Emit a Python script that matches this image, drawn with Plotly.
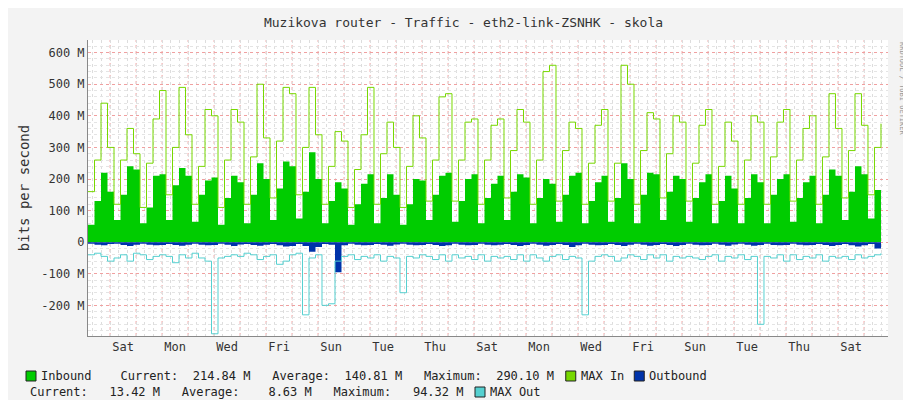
import plotly.graph_objects as go

# 6-hour samples, values in Mbit/s
inbound = [55,130,220,160, 70,150,240,230, 60,110,210,215, 70,180,235,210,
           65,150,195,205, 55,140,210,190, 60,150,250,200, 70,170,255,240,
           75,160,285,200, 60,130,190,170, 55,120,185,215, 60,140,215,150,
           55,120,200,195, 70,150,210,220, 65,130,200,215, 60,140,185,210,
           70,160,215,205, 60,140,200,185, 65,150,210,220, 60,130,190,210,
           65,140,250,200, 60,150,220,215, 70,160,210,200, 65,140,190,215,
           60,130,210,170, 60,140,215,190, 60,150,200,215, 65,140,190,210,
           60,150,230,210, 70,160,240,215, 75,165,215]
max_in = [160,260,440,300, 120,260,360,280, 110,250,390,480, 150,300,490,340,
          120,240,420,400, 110,260,420,380, 120,270,500,330, 140,320,490,470,
          150,300,490,340, 120,240,350,320, 110,230,340,490, 120,280,380,300,
          110,240,400,330, 130,260,460,470, 130,260,380,390, 120,260,370,390,
          140,290,420,380, 120,260,540,560, 130,290,380,360, 120,250,370,420,
          130,250,560,500, 120,290,410,390, 140,280,400,380, 130,250,370,420,
          120,240,380,320, 120,260,400,380, 120,270,380,420, 130,260,360,400,
          120,270,470,360, 140,290,470,370, 150,300,375]
outbound = [-5,-8,-10,-6, -5,-9,-12,-8, -5,-8,-10,-9, -6,-9,-11,-8,
            -5,-8,-10,-9, -5,-8,-12,-7, -6,-9,-11,-8, -6,-10,-14,-12,
            -6,-12,-30,-15, -6,-8,-95,-10, -5,-8,-10,-9, -6,-8,-11,-7,
            -5,-8,-10,-9, -6,-9,-12,-10, -5,-8,-10,-9, -5,-8,-10,-8,
            -6,-9,-12,-9, -5,-8,-11,-9, -6,-9,-15,-10, -5,-8,-10,-9,
            -6,-9,-12,-8, -5,-8,-11,-9, -6,-9,-12,-9, -5,-8,-10,-9,
            -5,-8,-11,-7, -5,-8,-11,-9, -5,-9,-10,-9, -5,-8,-10,-9,
            -6,-9,-12,-9, -6,-10,-14,-10, -6,-20,-12]
max_out = [-40,-35,-45,-60, -50,-40,-60,-35, -40,-55,-45,-40, -45,-65,-40,-50,
           -35,-50,-60,-290, -50,-45,-40,-45, -35,-40,-55,-45, -40,-70,-60,-40,
           -35,-230,-50,-40, -200,-195,-60,-45, -40,-55,-45,-50, -40,-60,-45,-50,
           -160,-45,-50,-40, -45,-55,-40,-60, -40,-50,-45,-55, -40,-60,-45,-50,
           -45,-55,-40,-60, -40,-50,-60,-45, -40,-55,-45,-50, -230,-60,-45,-40,
           -45,-60,-50,-40, -45,-55,-40,-50, -40,-60,-45,-50, -45,-50,-55,-45,
           -40,-60,-45,-50, -40,-55,-45,-260, -45,-50,-40,-60, -40,-55,-45,-50,
           -40,-60,-45,-50, -45,-55,-40,-50, -45,-40,-35]
day_labels = ["Sat", "Mon", "Wed", "Fri", "Sun", "Tue", "Thu", "Sat",
              "Mon", "Wed", "Fri", "Sun", "Tue", "Thu", "Sat"]
y_ticks = [-200, -100, 0, 100, 200, 300, 400, 500, 600]

def xs(vals):
    return [i * 0.25 for i in range(len(vals))]

fig = go.Figure()
fig.add_trace(go.Scatter(x=xs(inbound), y=inbound, line_shape="hv", fill="tozeroy",
                         fillcolor="#00cc00", line=dict(color="#00cc00", width=0)))
fig.add_trace(go.Scatter(x=xs(outbound), y=outbound, line_shape="hv", fill="tozeroy",
                         fillcolor="#0033aa", line=dict(color="#0033aa", width=0)))
fig.add_trace(go.Scatter(x=xs(max_in), y=max_in, line_shape="hv",
                         line=dict(color="#77d800", width=1)))
fig.add_trace(go.Scatter(x=xs(max_out), y=max_out, line_shape="hv",
                         line=dict(color="#55d0d0", width=1)))

T, B, H = 32, 72, 296
first_sat = 0.85
tickvals = [first_sat + 0.5 + 2 * k for k in range(len(day_labels))]
mono = "DejaVu Sans Mono"
fig.update_layout(
    width=911, height=400, showlegend=False,
    paper_bgcolor="#f3f3f3", plot_bgcolor="white",
    margin=dict(l=80, r=31, t=T, b=B),
    font=dict(family=mono, size=12, color="#333"),
    title=dict(text="Muzikova router - Traffic - eth2-link-ZSNHK - skola",
               x=0.5, xanchor="center", y=0.975, font=dict(size=13)),
    xaxis=dict(range=[0, 30.77], tickvals=tickvals, ticktext=day_labels,
               showgrid=False, zeroline=False, ticks="", showline=True,
               linecolor="#888", automargin=False,
               minor=dict(tick0=first_sat, dtick=1 / 3, showgrid=True,
                          gridcolor="#dddddd", griddash="dot")),
    yaxis=dict(range=[-297, 640], tickvals=y_ticks, automargin=False,
               ticktext=[("%d M" % v) if v else "0" for v in y_ticks],
               gridcolor="#f0a0a0", griddash="dot", zeroline=False,
               showline=True, linecolor="#888",
               title=dict(text="bits per second", standoff=8),
               minor=dict(dtick=20, showgrid=True, gridcolor="#e4e4e4", griddash="dot")),
)
# red day separators
for d in range(31):
    xv = first_sat + d - 1
    if 0 < xv < 30.77:
        fig.add_vline(x=xv, line=dict(color="#f0a0a0", width=1, dash="dot"), layer="below")

fig.add_annotation(text="RRDTOOL / TOBI OETIKER", xref="paper", yref="paper",
                   x=1.025, y=1.0, textangle=90, showarrow=False, yanchor="top",
                   font=dict(size=7, color="#999"))

legend_rows = [
    [("#00cc00", "Inbound    Current:  214.84 M   Average:  140.81 M   Maximum:  290.10 M"),
     ("#77d800", "MAX In"), ("#0033aa", "Outbound")],
    [(None, "Current:   13.42 M   Average:    8.63 M   Maximum:   94.32 M"),
     ("#55d0d0", "MAX Out")],
]
row_y = [368, 384]
for r, items in enumerate(legend_rows):
    px = 18 if items[0][0] else 20
    yy = 1 - (row_y[r] - T) / H
    for color, txt in items:
        if color:
            fig.add_shape(type="rect", xref="paper", yref="paper",
                          x0=(px - 80) / 800, x1=(px - 70) / 800,
                          y0=yy - 5 / H, y1=yy + 5 / H,
                          fillcolor=color, line=dict(color="#222", width=1))
            px += 13
        fig.add_annotation(text=txt.replace(" ", "&nbsp;"), xref="paper", yref="paper",
                           x=(px - 80) / 800, y=yy, xanchor="left", yanchor="middle",
                           showarrow=False, font=dict(size=12, color="#222"))
        px += len(txt) * 7.25 + 12

fig.write_html("out.html")
